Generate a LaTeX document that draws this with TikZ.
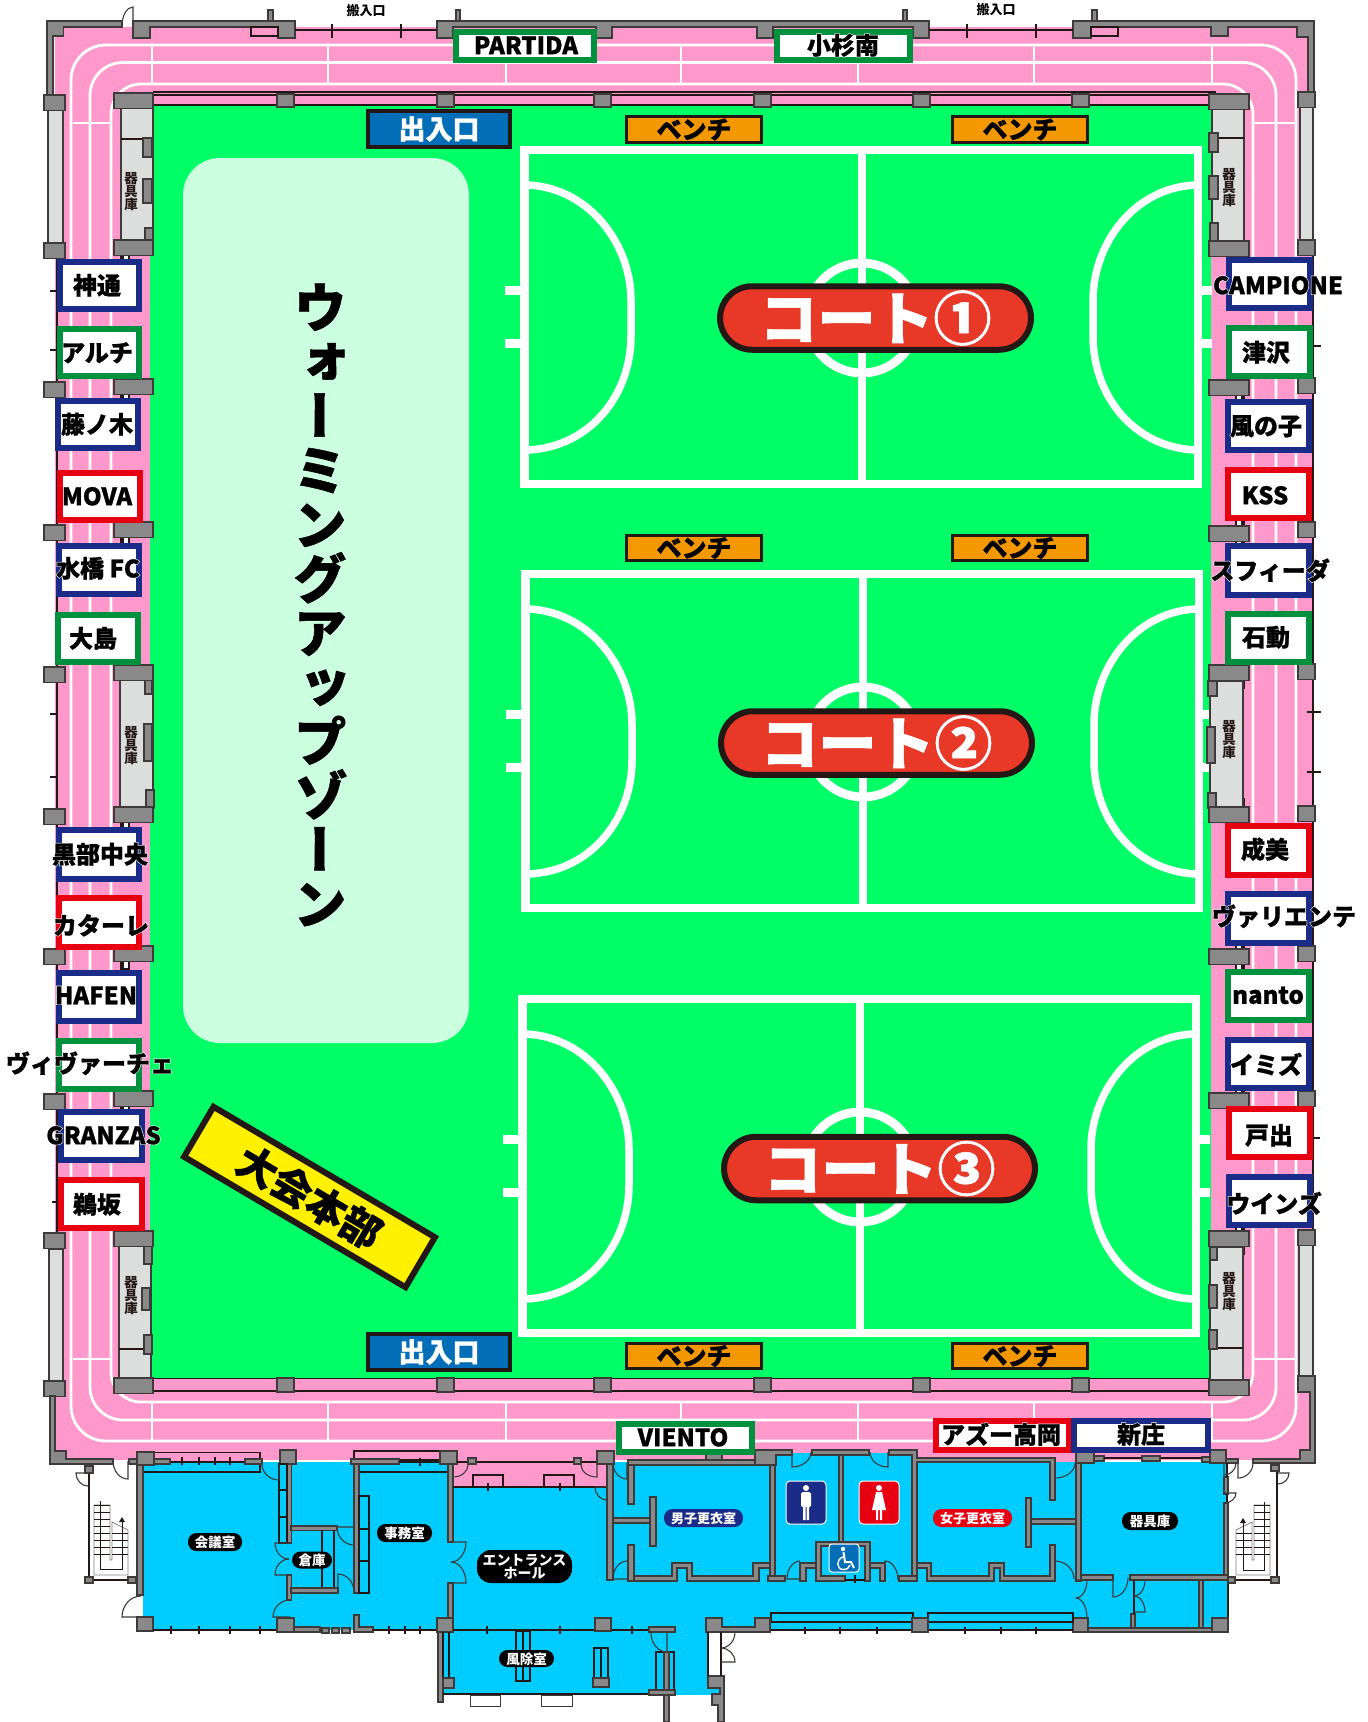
\documentclass[tikz,border=0pt]{standalone}
\usepackage{fontspec}
\newfontfamily\jpk[FakeBold=1]{Noto Sans CJK JP Black}
\newfontfamily\jps{Noto Sans CJK JP Black}
\newfontfamily\jpv[FakeBold=1,RawFeature=+vert]{Noto Sans CJK JP Black}
\newfontfamily\jph[FakeBold=6]{Noto Sans CJK JP Black}
\definecolor{pinkc}{HTML}{FF99CC}
\definecolor{fieldc}{HTML}{00FF66}
\definecolor{zonec}{HTML}{CCFFE0}
\definecolor{cyanc}{HTML}{00CCFF}
\definecolor{navyc}{HTML}{1A2C88}
\definecolor{greenc}{HTML}{00913F}
\definecolor{redc}{HTML}{E60012}
\definecolor{darkc}{HTML}{231815}
\definecolor{wallc}{HTML}{898989}
\definecolor{wedge}{HTML}{3E3A39}
\definecolor{roomc}{HTML}{DCDDDD}
\definecolor{courtc}{HTML}{E83828}
\definecolor{bluec}{HTML}{036EB8}
\definecolor{benchc}{HTML}{F39800}
\definecolor{yellowc}{HTML}{FFF100}
\newcommand\hl[1]{\leavevmode\rlap{\jph\color{white}#1}#1}
\newcommand\fs[1]{\fontsize{#1}{#1}\selectfont}
\tikzset{
 wallst/.style={fill=wallc,draw=wedge,line width=1.1pt},
 roomst/.style={fill=roomc,draw=wedge,line width=1.2pt},
 thin1/.style={draw=darkc,line width=1.1pt},
 thick2/.style={draw=darkc,line width=2.4pt},
 trackst/.style={draw=white,line width=2.8pt},
 courtline/.style={draw=white,line width=8.8pt},
 teambox/.style={draw=#1,line width=6pt,fill=white,inner sep=0pt,outer sep=0pt},
 teamtext/.style={font=\jpk\fs{24},text=black,inner sep=0pt},
 pillst/.style={fill=#1,text=white,font=\jps\fs{13.5},rounded corners=8.5pt,inner sep=0pt,align=center,text depth=0pt},
 courtpill/.style={fill=courtc,draw=darkc,line width=6pt,rounded corners=32pt,minimum width=311pt,minimum height=63.5pt,text=white,font=\jpk\fs{58},inner sep=0pt},
 door/.style={draw=wedge,line width=1.1pt},
}
\newcommand\blk[4]{\draw[wallst] (#1,#2) rectangle (#3,#4);}
\newcommand\doorq[6]{%
 \pgfmathsetmacro\ca{#3+.55*(#5-#1)}\pgfmathsetmacro\cb{#4+.55*(#6-#2)}%
 \pgfmathsetmacro\cc{#5+.55*(#3-#1)}\pgfmathsetmacro\cd{#6+.55*(#4-#2)}%
 \draw[door] (#1,#2) -- (#3,#4) .. controls (\ca,\cb) and (\cc,\cd) .. (#5,#6);}
\newcommand\team[9]{%
 \node[teambox=#2,minimum width={#5-#3-5},minimum height={#6-#4-5}] (box#1) at ({(#3+#5)/2},{(#4+#6)/2}) {};%
 \node[teamtext] (txt#1) at (#7,#8+.3) {\hl{#9}};}
\newcommand\court[3]{%
 \begin{scope}[shift={(#2,#3)}]
 \draw[courtline,line width=9pt] (505,290) -- (521,290) (505,343) -- (521,343) (1202,290) -- (1212,290) (1202,343) -- (1212,343);
 \draw[courtline] (524.5,150) rectangle (1198,484);
 \draw[courtline] (862,150) -- (862,484);
 \draw[courtline] (862,318) circle[radius=55pt];
 \draw[courtline,line width=7.5pt] (528,185) .. controls (590,188) and (631,245) .. (631,300) -- (631,336) .. controls (631,395) and (590,447) .. (528,450);
 \draw[courtline,line width=7.5pt] (1195,185) .. controls (1133,188) and (1093,245) .. (1093,300) -- (1093,336) .. controls (1093,395) and (1133,447) .. (1195,450);
 \end{scope}}
\newcommand\bench[3]{\node[fill=benchc,draw=darkc,line width=2.8pt,minimum width=135pt,minimum height=25.5pt,inner sep=0pt,font=\jpk\fs{25}] (#1) at (#2,#3) {\raisebox{-1pt}{ベンチ}};}
\newcommand\gate[3]{\node[fill=bluec,draw=darkc,line width=3.6pt,minimum width=142pt,minimum height=36pt,inner sep=0pt,text=white,font=\jpk\fs{27}] (#1) at (#2,#3) {\raisebox{-1pt}{出入口}};}
\newcommand\store[3]{\node[font=\jps\fs{13.5},text=darkc,align=center,inner sep=0pt] (#1) at (#2,#3) {器\\[-.5pt]具\\[-.5pt]庫};}
\begin{document}
\begin{tikzpicture}[x=1pt,y=-1pt]
\useasboundingbox (0,0) rectangle (1368,1722);
\fill[white] (0,0) rectangle (1368,1722);
% floors
\fill[pinkc] (55,27) rectangle (1312,1460);
\fill[pinkc] (450,1458) rectangle (607,1487);
\fill[pinkc] (1054,1458) rectangle (1076,1463);
\fill[fieldc] (150,105) rectangle (1211,1378);
\fill[cyanc] (143,1462) rectangle (450,1630);
\fill[cyanc] (450,1487) rectangle (610,1630);
\fill[cyanc] (607,1462) rectangle (1228,1630);
\fill[cyanc] (775,1453) rectangle (915,1462);
\fill[cyanc] (443,1630) rectangle (708,1695);
\fill[cyanc] (708,1676) rectangle (720,1695);
\fill[white] (708,1632) rectangle (721,1676);
% warm up zone
\fill[zonec,rounded corners=37pt] (183,158) rectangle (469,1043);
% courts
\court{c1}{0}{0}
\court{c2}{1}{424}
\court{c3}{-2}{849}
% track
\draw[trackst,rounded corners=35pt] (71,1441) rectangle (1296,45);
\draw[trackst,rounded corners=33pt] (90,1420) rectangle (1276,62.5);
\draw[trackst,rounded corners=30pt] (111,1402) rectangle (1253,84);
\foreach \tx in {152,328,506,681,858,1034,1212}{
 \draw[trackst] (\tx,45) -- (\tx,84);
 \draw[trackst] (\tx,1402) -- (\tx,1441);
}
\draw[trackst] (73,123) -- (111,123) (1253,123) -- (1296,123) (73,1359) -- (111,1359) (1253,1359) -- (1296,1359);
% top walls
\draw[wallst] (47,21)--(122,21)--(122,27)--(63.5,27)--(63.5,36)--(53,36)--(53,95)--(47,95)--cycle;
\draw[wallst] (133,21)--(295,21)--(295,38)--(278,38)--(278,27)--(150,27)--(150,38)--(133,38)--cycle;
\draw[wallst] (437,21)--(929,21)--(929,38)--(913,38)--(913,27)--(773,27)--(773,38)--(757,38)--(757,27)--(612,27)--(612,38)--(596,38)--(596,27)--(453,27)--(453,38)--(437,38)--cycle;
\draw[wallst] (1073,21)--(1314,21)--(1314,92)--(1308,92)--(1308,37)--(1297,37)--(1297,27)--(1228,27)--(1228,36)--(1211,36)--(1211,27)--(1091,27)--(1091,38)--(1073,38)--cycle;
\blk{268}{10}{273}{21}\blk{456}{10}{460}{21}\blk{903}{10}{907}{21}\blk{1092}{10}{1097}{21}
\draw[thin1,fill=pinkc] (251,27) rectangle (278,36) (1091,27) rectangle (1118,36);
\draw[thick2] (295,30) -- (437,30) (332,24) -- (332,38) (401,24) -- (401,38);
\draw[thick2] (929,30) -- (1073,30) (967,24) -- (967,38) (1036,24) -- (1036,38);
\doorq{133}{26}{133}{7}{122}{26}
% inner rails
\draw[thin1] (153,92) -- (1216,92) (153,95) -- (1216,95) (153,105) -- (1210,105);
\draw[thin1] (153,1378.5) -- (1215,1378.5);
\draw[thick2,line width=1.5pt] (153,1391) -- (1209,1391);
\foreach \bx in {277,437,594,754,913,1072}{
 \blk{\bx}{94}{\bx+17}{107}
 \blk{\bx}{1378}{\bx+17}{1392}
}
% outer side lines
\draw[thick2] (57,258) -- (57,1233) (1313,255) -- (1313,1230);
\draw[thick2] (50,291) -- (57,291) (50,350) -- (57,350) (50,714) -- (57,714) (50,777) -- (57,777) (52,1202) -- (57,1202);
\draw[thick2] (1313,346) -- (1321,346) (1307,712) -- (1321,712) (1307,772) -- (1321,772) (1313,1138) -- (1320,1138);
% side columns
\draw[roomst,line width=1.4pt] (48,110) rectangle (63,243) (49,1249) rectangle (63,1381) (1300,107) rectangle (1313,240) (1299,1245) rectangle (1313,1376);
% stubs
\foreach \by in {240,379,522,665,807,946,1091,1231}{
 \draw[thin1,fill=white] (121,\by-8) rectangle (129,\by+23);
 \fill[darkc] (121,\by-8) rectangle (124,\by+23);
}
\foreach \by in {241,380,526,665,807,949,1093,1231}{
 \draw[thin1,fill=white] (1236,\by-8) rectangle (1244,\by+23);
 \fill[darkc] (1241,\by-8) rectangle (1244,\by+23);
}
% storage rooms
\draw[roomst] (121,108) rectangle (153,240);
\draw[roomst] (120,680) rectangle (153,807);
\draw[roomst] (119,1246) rectangle (151,1378);
\draw[roomst] (1212,109) rectangle (1244,241);
\draw[roomst] (1210,681) rectangle (1243,807);
\draw[roomst] (1210,1247) rectangle (1243,1380);
\draw[thin1] (121,139) -- (153,139) (119,1349) -- (151,1349) (1212,138) -- (1244,138) (1210,1348) -- (1243,1348);
% storage wall details
\blk{143}{138}{152}{157}\blk{143}{179}{152}{203}\blk{145}{228}{153}{241}
\blk{145}{680}{152}{694}\blk{144}{724}{152}{761}\blk{146}{790}{154}{808}
\blk{144}{1246}{152}{1264}\blk{142}{1288}{150}{1310}\blk{144}{1335}{152}{1354}
\blk{1209}{133}{1218}{152}\blk{1209}{176}{1218}{199}\blk{1210}{223}{1218}{242}
\blk{1208}{681}{1217}{696}\blk{1207}{727}{1215}{763}\blk{1208}{793}{1216}{808}
\blk{1209}{1285}{1217}{1308}\blk{1209}{1330}{1217}{1349}\blk{1210}{1247}{1217}{1260}
% pillar blocks
\foreach \by in {95,243,382,525,667,809,949,1094,1233,1381}{\blk{44}{\by}{65}{\by+15.5}}
\foreach \by in {92,240,378,522,664,806,946,1091,1230,1376}{\blk{1298}{\by}{1315}{\by+15.5}}
\foreach \by in {93,240,379,522,665,807,946,1091,1231,1378}{\blk{114}{\by}{153}{\by+15.5}}
\foreach \by in {94,241,380,526,665,807,949,1093,1231,1380}{\blk{1209}{\by}{1249}{\by+15.5}}
\store{st1}{131}{192}
\store{st2}{131}{746}
\store{st3}{131}{1296}
\store{st4}{1229}{188}
\store{st5}{1229}{740}
\store{st6}{1229}{1292}
% bottom outer walls
\draw[wallst] (50,1396)--(55,1396)--(55,1451)--(66,1451)--(66,1459)--(113,1459)--(113,1464)--(50,1464)--cycle;
\draw[wallst] (1298,1376)--(1315,1376)--(1315,1463)--(1253,1463)--(1253,1459)--(1300,1459)--(1300,1450)--(1310,1450)--(1310,1392)--(1298,1392)--cycle;
% --- building walls ---
\draw[thin1,fill=pinkc] (153,1452.5) rectangle (260,1462);
\draw[thin1] (143,1472) -- (260,1472) -- (260,1462);
\draw[thick2] (170,1462) -- (245,1462);
\foreach \tx in {182,199,215,230}{\draw[thick2,line width=1.5pt] (\tx,1457) -- (\tx,1465);}
\blk{129}{1459}{170}{1464}\blk{137}{1452}{154}{1465}\blk{137}{1465}{143}{1595}
\blk{245}{1459}{262}{1464}\blk{280}{1450}{296}{1464}
\blk{287}{1464}{291.5}{1543}
\draw[thin1] (279,1464) rectangle (287,1543) (279,1490) -- (287,1490) (279,1517) -- (287,1517);
\blk{291}{1526}{337}{1530.5}
\draw[thin1] (322,1530) -- (322,1588) (334,1530) -- (334,1588);
\blk{287}{1575}{291.5}{1600}\blk{291}{1588}{338}{1593}
\draw[thin1,fill=pinkc] (354,1451) rectangle (440,1460);
\draw[thin1] (359,1472) -- (448,1472);
\blk{351}{1459}{399}{1464}\blk{354}{1464}{359}{1593}
\draw[thin1] (359,1496) rectangle (369,1593) (359,1529) -- (369,1529) (359,1561) -- (369,1561);
\draw[thick2] (399,1462) -- (440,1462) (420,1458) -- (420,1466);
\blk{440}{1451}{457}{1464}\blk{448}{1464}{453}{1542}\blk{448}{1583}{453}{1620}
\draw[thick2] (453,1487) -- (607,1487) (457,1462) -- (597,1462);
\draw[thin1,fill=pinkc] (473,1475) rectangle (503,1487) (544,1475) rectangle (574,1487);
\draw[thick2,line width=1.5pt] (488,1483) -- (488,1491) (560,1483) -- (560,1491);
\blk{468}{1458}{476}{1464}\blk{574}{1458}{581}{1464}\blk{597}{1451}{614}{1464}
\blk{607}{1464}{613}{1580}\blk{613}{1518}{652}{1523}\blk{650}{1497}{656}{1546}
\blk{628}{1460}{634}{1504}\blk{628}{1460}{770}{1465}
\blk{628}{1545}{634}{1581}
\draw[wallst] (634,1576)--(672,1576)--(672,1563)--(692,1563)--(692,1576)--(753,1576)--(753,1563)--(770,1563)--(770,1568)--(759,1568)--(759,1581)--(687,1581)--(687,1568)--(677,1568)--(677,1581)--(634,1581)--cycle;
\blk{770}{1465}{775}{1581}\blk{768}{1576}{785}{1581}
\draw[wallst] (755,1450)--(792,1450)--(792,1455)--(776,1455)--(776,1465)--(755,1465)--cycle;
\blk{706}{1452}{722}{1460}
\blk{812}{1450}{869}{1455}\blk{839}{1455}{843}{1543}
\draw[wallst] (889,1450)--(917,1450)--(917,1458)--(1055,1458)--(1055,1500)--(1050,1500)--(1050,1462)--(917,1462)--(917,1581)--(912,1581)--(912,1455)--(889,1455)--cycle;
\draw[wallst] (816,1542)--(870,1542)--(870,1581)--(865,1581)--(865,1546)--(821,1546)--(821,1576)--(845,1576)--(845,1581)--(816,1581)--cycle;
\draw[thick2,line width=1.5pt] (845,1580) -- (865,1580) (855,1575) -- (855,1583);
\draw[wallst] (800,1563)--(816,1563)--(816,1568)--(806,1568)--(806,1581)--(800,1581)--cycle;
\draw[wallst] (870,1563)--(885,1563)--(885,1581)--(880,1581)--(880,1568)--(870,1568)--cycle;
\blk{899}{1576}{917}{1581}
\draw[wallst] (917,1563)--(931,1563)--(931,1576)--(989,1576)--(989,1563)--(1004,1563)--(1004,1576)--(1050,1576)--(1050,1545)--(1055,1545)--(1055,1581)--(1000,1581)--(1000,1568)--(994,1568)--(994,1581)--(927,1581)--(927,1568)--(917,1568)--cycle;
\blk{1031}{1519}{1077}{1524}\blk{1026}{1498}{1031}{1547}
\blk{1076}{1463}{1081}{1581}\blk{1076}{1450}{1094}{1463}\blk{1094}{1456}{1104}{1461}
\draw[thick2,line width=1.5pt] (1104,1458) -- (1202,1458);
\blk{1142}{1456}{1160}{1461}\blk{1202}{1457}{1210}{1462}\blk{1210}{1450}{1226}{1463}\blk{1226}{1459}{1238}{1463}
\blk{1224}{1477}{1228}{1494}
\draw[thin1] (1227,1463) -- (1227,1477) (1227,1494) -- (1227,1576);
\blk{1224}{1503}{1228}{1576}
\blk{1081}{1575}{1113}{1580}\blk{1130}{1575}{1228}{1580}
\draw[thick2,line width=1.5pt] (1228,1580) -- (1228,1632);
\blk{1199}{1580}{1203}{1628}\blk{1131}{1614}{1135}{1628}
\draw[thin1] (1134,1580) -- (1134,1614);
\blk{1073}{1618}{1088}{1632}\blk{1088}{1628}{1212}{1632}\blk{1212}{1618}{1228}{1632}
\draw[thick2] (771,1630) -- (1073,1630);
\foreach \tx in {805,840,877,965,1001,1036}{\draw[thick2,line width=1.5pt] (\tx,1627) -- (\tx,1634);}
\draw[thin1] (771,1613) rectangle (913,1622) (928,1613) rectangle (1073,1622);
\blk{912}{1618}{928}{1632}
\draw[wallst] (706,1618)--(722,1618)--(722,1627)--(755,1627)--(755,1618)--(770,1618)--(770,1632)--(706,1632)--cycle;
\draw[wallst] (708,1676)--(724,1676)--(724,1722)--(718,1722)--(718,1705)--(712,1705)--(712,1694)--(720,1694)--(720,1688)--(708,1688)--cycle;
\draw[thin1] (708,1632) -- (708,1676) (721,1632) -- (721,1676);
% lower left
\blk{137}{1617}{153}{1631}
\draw[thick2] (153,1630) -- (277,1630) (294,1630) -- (320,1630);
\foreach \tx in {171,199,230,260}{\draw[thick2,line width=1.5pt] (\tx,1626) -- (\tx,1634);}
\blk{277}{1618}{294}{1632}\blk{294}{1627}{320}{1632}
\blk{322}{1628}{329}{1633}\blk{332}{1628}{339}{1633}\blk{342}{1628}{350}{1633}
\draw[wallst] (354,1615)--(359,1615)--(359,1627)--(373,1627)--(373,1632)--(354,1632)--cycle;
\draw[thick2] (373,1630) -- (437,1630);
\foreach \tx in {389,405,420}{\draw[thick2,line width=1.5pt] (\tx,1626) -- (\tx,1634);}
% wind room
\blk{437}{1618}{453}{1632}\blk{438}{1632}{443}{1702}
\draw[thin1] (443,1632) -- (443,1678) (449,1632) -- (449,1678);
\blk{443}{1678}{454}{1688}
\draw[thick2] (443,1694) -- (650,1694) (453,1630) -- (650,1630);
\foreach \tx in {487,560,632}{\draw[thick2,line width=1.5pt] (\tx,1626) -- (\tx,1634);}
\blk{595}{1618}{611}{1631}\blk{649}{1627}{675}{1632}
\draw[wedge,line width=1pt,fill=white] (470,1695) rectangle (500,1706) (541,1695) rectangle (572,1706);
\draw[thin1] (516,1631) rectangle (530,1681) (523,1631) -- (523,1681);
\draw[thin1] (594,1648) rectangle (608,1678) (601,1648) -- (601,1678);
\blk{593}{1678}{609}{1687}
\draw[thin1] (656,1652) rectangle (674,1694);
\blk{664}{1652}{669}{1722}\blk{649}{1690}{675}{1695}
% doors
\doorq{88}{1473}{76}{1473}{88}{1486}
\doorq{128}{1461}{128}{1479}{113}{1461}
\doorq{279}{1464}{279}{1480}{262}{1464}
\doorq{289}{1543}{275}{1543}{289}{1559}
\doorq{289}{1575}{275}{1575}{289}{1559}
\doorq{290}{1617}{273}{1617}{290}{1600}
\doorq{354}{1527}{337}{1527}{354}{1545}
\doorq{338}{1592}{338}{1574}{354}{1592}
\doorq{141}{1617}{122}{1617}{141}{1596}
\doorq{451}{1542}{466}{1542}{451}{1562}
\doorq{451}{1583}{466}{1583}{451}{1562}
\doorq{453}{1465}{453}{1477}{468}{1465}
\doorq{597}{1465}{597}{1477}{581}{1465}
\doorq{607}{1487}{595}{1487}{607}{1500}
\doorq{627}{1463}{627}{1479}{613}{1463}
\doorq{627}{1579}{613}{1579}{627}{1561}
\doorq{667}{1633}{667}{1652}{651}{1633}
\doorq{792}{1452}{792}{1467}{811}{1452}
\doorq{888}{1452}{888}{1467}{870}{1452}
\doorq{1055}{1463}{1055}{1478}{1075}{1463}
\doorq{1055}{1579}{1055}{1561}{1074}{1579}
\doorq{800}{1579}{787}{1579}{800}{1561}
\doorq{885}{1580}{885}{1561}{898}{1580}
\doorq{1113}{1578}{1113}{1597}{1128}{1578}
\doorq{1076}{1580}{1087}{1580}{1076}{1598}
\doorq{1076}{1618}{1087}{1618}{1076}{1598}
\doorq{1134}{1580}{1145}{1580}{1134}{1596}
\doorq{1134}{1612}{1145}{1612}{1134}{1596}
\doorq{721}{1632}{735}{1632}{721}{1648}
\doorq{721}{1662}{735}{1662}{721}{1648}
\doorq{1224}{1463}{1224}{1475}{1236}{1463}
\doorq{1224}{1493}{1236}{1493}{1224}{1503}
\doorq{1238}{1463}{1238}{1478}{1253}{1463}
\doorq{1278}{1473}{1289}{1473}{1278}{1484}
% left stairs
\draw[thick2] (89,1470) -- (89,1580) -- (133,1580);
\blk{85}{1466}{93}{1473}\blk{85}{1577}{93}{1583}\blk{128}{1577}{136}{1583}
\draw[gray,line width=.8pt] (94,1505) -- (110,1505) -- (110,1560) -- (112,1560) -- (112,1522) -- (128,1530) -- (128,1575) -- (94,1575) -- cycle;
\foreach \ty in {1505,1512,1519,1526,1533,1540,1547,1554}{\draw[darkc,line width=.7pt] (94,\ty) -- (110,\ty);}
\foreach \ty in {1533,1540,1547,1554}{\draw[darkc,line width=.7pt] (112,\ty) -- (128,\ty);}
\draw[darkc,line width=.9pt] (100,1501) -- (100,1569) -- (122,1569) -- (122,1522);
\fill[darkc] (122,1517) -- (125,1522) -- (119,1522) -- cycle;
% right stairs
\draw[thick2] (1277,1470) -- (1277,1580) -- (1232,1580);
\blk{1271}{1465}{1279}{1471}\blk{1271}{1577}{1279}{1583}\blk{1228}{1577}{1235}{1583}
\draw[gray,line width=.8pt] (1254,1505) -- (1270,1505) -- (1270,1575) -- (1236,1575) -- (1236,1530) -- (1252,1522) -- (1252,1560) -- (1254,1560) -- cycle;
\foreach \ty in {1505,1512,1519,1526,1533,1540,1547,1554}{\draw[darkc,line width=.7pt] (1254,\ty) -- (1270,\ty);}
\foreach \ty in {1533,1540,1547,1554}{\draw[darkc,line width=.7pt] (1236,\ty) -- (1252,\ty);}
\draw[darkc,line width=.9pt] (1264,1502) -- (1264,1570) -- (1243,1570) -- (1243,1522);
\fill[darkc] (1243,1518) -- (1246,1523) -- (1240,1523) -- cycle;
% toilet signs
\draw[fill=navyc,draw=white,line width=1pt,rounded corners=4pt] (786,1481) rectangle (826,1524);
\fill[white] (806,1488) circle[radius=3pt];
\fill[white,rounded corners=1.5pt] (801,1492) rectangle (811,1507);
\fill[white] (803,1505) rectangle (805.5,1520) (806.5,1505) rectangle (809,1520);
\draw[fill=redc,draw=white,line width=1pt,rounded corners=4pt] (859,1481) rectangle (899,1524);
\fill[white] (879,1488) circle[radius=3pt];
\fill[white] (876,1492) -- (882,1492) -- (886,1510) -- (872,1510) -- cycle;
\fill[white] (876,1508) rectangle (878.2,1520) (879.8,1508) rectangle (882,1520);
\draw[fill=bluec,draw=white,line width=1pt,rounded corners=3pt] (829,1544) rectangle (859,1572);
\fill[white] (843,1549) circle[radius=2.2pt];
\draw[white,line width=2pt] (843.5,1552) -- (845,1562) -- (851,1562) -- (854,1568);
\draw[white,line width=1.4pt] (843,1557) .. controls (836,1559) and (836,1569) .. (843,1569.5) .. controls (847,1569.5) and (849,1568) .. (850,1565);
% pills
\node[pillst=black,minimum width=54pt,minimum height=18pt] (n1) at (215,1542) {会議室};
\node[pillst=black,minimum width=40pt,minimum height=17pt] (n2) at (312,1560) {倉庫};
\node[pillst=black,minimum width=55pt,minimum height=18pt] (n3) at (404.5,1533) {事務室};
\node[pillst=black,minimum width=95pt,minimum height=33pt,rounded corners=14pt,font=\jps\fs{14}] (n4) at (524.5,1566.5) {エントランス\\[-1pt]ホール};
\node[pillst=black,minimum width=55pt,minimum height=17pt] (n5) at (526.5,1658.5) {風除室};
\node[pillst=navyc,minimum width=79pt,minimum height=18pt,font=\jps\fs{13}] (n6) at (703.5,1518) {男子更衣室};
\node[pillst=redc,minimum width=79pt,minimum height=18pt,font=\jps\fs{13}] (n7) at (972.5,1518) {女子更衣室};
\node[pillst=black,minimum width=56pt,minimum height=18pt] (n8) at (1150,1521) {器具庫};
% load labels
\node[font=\jps\fs{13},inner sep=0pt] (load1) at (366,11) {搬入口};
\node[font=\jps\fs{13},inner sep=0pt] (load2) at (996,10) {搬入口};
% gates, benches
\gate{g1}{439}{129}
\gate{g2}{439}{1352}
\bench{b1}{694}{129.5}
\bench{b2}{1020}{129.5}
\bench{b3}{694}{548}
\bench{b4}{1020}{548}
\bench{b5}{694}{1356}
\bench{b6}{1020}{1356}
% warm-up text
\node[font=\jpv\fontsize{54}{54.2}\selectfont,align=center,inner sep=0pt,text=black] (wz) at (320,605) {ウ\\ォ\\ー\\ミ\\ン\\グ\\ア\\ッ\\プ\\ゾ\\ー\\ン};
% HQ banner
\node[fill=yellowc,draw=darkc,line width=6pt,minimum width=257pt,minimum height=58pt,rotate=-30.5,inner sep=0pt,font=\jpk\fs{40}] (hq) at (309.5,1197) {大会本部};
% court pills
\node[courtpill] (p1) at (875.5,318) {\raisebox{-2pt}{コート①}};
\node[courtpill] (p2) at (876.5,743) {\raisebox{-2pt}{コート②}};
\node[courtpill] (p3) at (879.5,1168.5) {\raisebox{-2pt}{コート③}};
% team labels
\team{a}{navyc}{57}{259}{141}{311}{97}{285}{神通}
\team{b}{greenc}{57}{326}{141}{378}{97}{352.5}{アルチ}
\team{c}{navyc}{55}{398}{140}{450}{97}{424}{藤ノ木}
\team{d}{redc}{57}{470}{142}{522}{97}{496}{MOVA}
\team{e}{navyc}{56}{543}{141}{596}{98}{568}{水橋 FC}
\team{f}{greenc}{55}{612}{140}{664}{93}{638}{大島}
\team{g}{navyc}{56}{827}{141}{881}{100}{854}{黒部中央}
\team{h}{redc}{56}{895}{141}{949}{101}{925}{カターレ}
\team{i}{navyc}{56}{970}{141}{1023}{96}{995}{HAFEN}
\team{j}{greenc}{56}{1038}{141}{1091}{90}{1063}{ヴィヴァーチェ}
\team{k}{navyc}{58}{1109}{144}{1162}{103.5}{1135}{GRANZAS}
\team{l}{redc}{58}{1177}{144}{1230}{97}{1204}{鵜坂}
\team{m}{navyc}{1226}{257}{1312}{310}{1278}{285}{CAMPIONE}
\team{n}{greenc}{1226}{325}{1312}{378}{1266}{352}{津沢}
\team{o}{navyc}{1225}{399}{1311}{452}{1266}{426}{風の子}
\team{p}{redc}{1225}{467}{1311}{520}{1265}{495}{KSS}
\team{q}{navyc}{1225}{543}{1311}{597}{1270}{570}{スフィーダ}
\team{r}{greenc}{1225}{611}{1311}{664}{1266}{637}{石動}
\team{s}{redc}{1225}{823}{1311}{877}{1265}{849}{成美}
\team{t}{navyc}{1225}{891}{1311}{945}{1284}{916}{ヴァリエンテ}
\team{u}{greenc}{1225}{969}{1311}{1022}{1268}{995}{nanto}
\team{v}{navyc}{1225}{1037}{1311}{1090}{1266}{1064}{イミズ}
\team{w}{redc}{1226}{1106}{1312}{1159}{1269}{1135}{戸出}
\team{x}{navyc}{1226}{1174}{1312}{1227}{1274}{1203}{ウインズ}
\team{y}{greenc}{453}{29}{596}{62}{526}{45}{PARTIDA}
\team{z}{greenc}{774}{29}{912}{62}{843}{45}{小杉南}
\team{aa}{greenc}{616}{1421}{754}{1454}{683}{1437}{VIENTO}
\team{ab}{redc}{933}{1418}{1071}{1452}{1001}{1434}{アズー高岡}
\team{ac}{navyc}{1071}{1418}{1210}{1452}{1141}{1434}{新庄}
\end{tikzpicture}
\end{document}
